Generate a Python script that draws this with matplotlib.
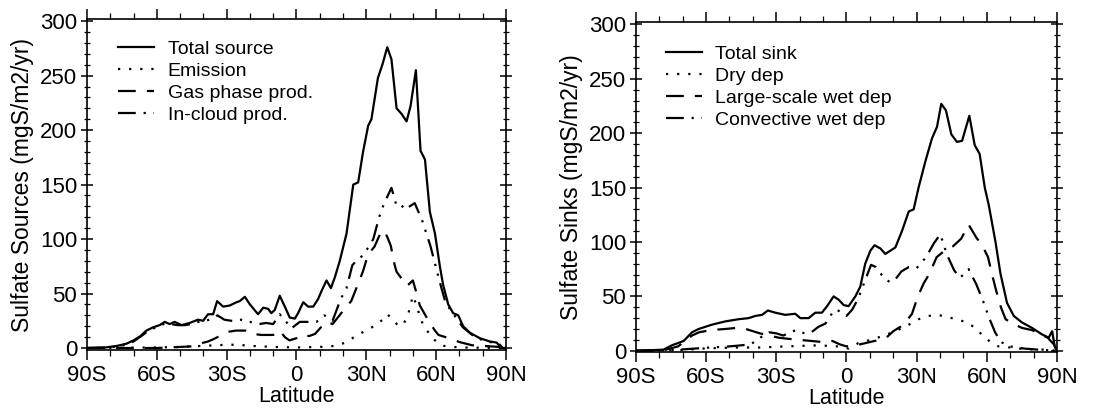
import matplotlib
matplotlib.use("Agg")
import matplotlib.pyplot as plt
from matplotlib.ticker import MultipleLocator

plt.rcParams['font.family'] = ['Liberation Sans', 'DejaVu Sans']

# ---- left panel: sulfate sources (mgS/m2/yr) ----
tot_src_lat = [-90, -82, -77, -73, -70, -67, -64.5, -61.6, -58.8, -56.6, -54.5, -52.3, -49.4, -45.9,
               -42.3, -40.1, -38, -35.8, -34.1, -31.5, -28.7, -25.8, -24.4, -22.2, -20, -16.5, -14.3,
               -12.2, -10.8, -9.3, -7.2, -5, -2.9, -0.7, 0.7, 2.9, 5, 7.2, 9.3, 10.7, 12.9, 14.8, 16.5,
               18.6, 21.5, 24.4, 26.5, 28.6, 30.8, 32.2, 35, 36.9, 39, 40.8, 43, 45.1, 47.3, 49, 51.3,
               53.3, 55.2, 57.3, 59.5, 61.6, 63, 65.2, 67.3, 69.5, 71.6, 74.5, 78.8, 83.1, 86, 88, 90]
tot_src = [0, 0.5, 2, 4, 7, 11, 16, 19, 21, 24, 22, 24, 21, 23,
           26, 25, 31, 31, 43, 38, 39, 42, 43, 47, 40, 31, 37,
           36, 32, 35, 48, 38, 28, 27, 32, 42, 38, 38, 45, 52, 62, 55, 65,
           80, 105, 150, 152, 180, 204, 210, 248, 260, 276, 265, 220, 215, 208, 222, 255,
           181, 173, 125, 105, 75, 58, 40, 32, 30, 20, 14, 9, 6, 5, 0, 0]

emis_lat = [-90, -60, -50, -45, -40, -35, -30, -25, -20, -10, 0, 10, 17, 21, 24, 27, 30, 34, 37, 39,
            41, 43.5, 45.8, 48, 50, 52, 53, 55, 57.5, 59.5, 63, 70, 90]
emis = [0, 0.5, 1, 1.5, 2, 2.5, 3, 3, 2, 1, 0.5, 1, 2, 5, 9, 13, 16, 21, 26, 31,
        27, 21, 21, 31, 48, 37, 28, 19, 12, 7, 2, 0.5, 0]

gas_lat = [-90, -60, -50, -45, -41.6, -38, -35.8, -32, -29, -26, -22, -19, -15, -10, -7.2, -5, -3, 0,
           2, 5.5, 8, 10.5, 13, 15.5, 18.5, 21, 23.5, 26.5, 28.5, 30.8, 33.5, 36, 37.5, 39, 40.5,
           42.2, 43, 47.5, 50, 51.5, 53, 57, 59.5, 61, 65.5, 70, 75.5, 80, 87, 90]
gas = [0, 0, 1, 1.5, 4, 6, 8, 12, 15, 16, 16, 13, 12, 12, 16, 10, 7, 9,
       12, 11, 13, 19, 24, 22, 30, 37, 43, 59, 70, 86, 93, 105, 108, 102, 94,
       76, 70, 57, 62, 51, 39, 24, 16, 12, 9, 5.5, 2.5, 2, 1, 0]

cld_lat = [-90, -80, -75, -70, -66, -63, -60, -57, -54, -51, -48, -45, -42, -39, -36, -34, -31, -28,
           -24, -20, -16, -13, -10, -7.2, -4.4, -2.2, 1.4, 5, 8.6, 12, 15.5, 19, 21.5, 24, 26.5,
           28.7, 31, 33, 35.5, 37.5, 40.8, 42.8, 44.5, 46.5, 50.8, 54, 57.5, 61.5, 64, 66.8, 71.5,
           75.5, 79, 84, 87, 88.5, 90]
cld = [0, 0.5, 2, 6, 12, 17, 19, 22, 22, 21, 21, 22, 24, 25, 27, 30, 26, 25,
       26, 24, 22, 23, 22, 31, 24, 18, 24, 24, 24, 30, 25, 45, 55, 76, 82,
       85, 93, 100, 120, 132, 147, 132, 133, 127, 133, 117, 94, 61, 42, 33, 19,
       12, 8, 5, 4, 0, 0]

# ---- right panel: sulfate sinks (mgS/m2/yr) ----
tot_snk_lat = [-90, -78.2, -74.6, -69.6, -66, -63.2, -57.5, -51.8, -46.1, -41.8, -39, -36.1, -33.6,
               -30.4, -26.2, -21.9, -19.7, -16.2, -13.3, -10.5, -8.3, -5.5, -3.4, -1.2, 0.9, 3.8,
               5.9, 8, 10.2, 12, 14.5, 16.6, 20.9, 23.7, 26.6, 28.7, 30.8, 33.7, 36.5, 38.7, 40.5,
               42.5, 44.8, 47.2, 49.4, 52.5, 54.8, 56.9, 59.1, 60.8, 63.6, 65.8, 68.6, 71.5, 75,
               79.3, 83.6, 86.4, 87.9, 89, 90]
tot_snk = [0, 1, 5, 9, 17, 20, 24, 27, 29, 30, 32, 33, 37,
           35, 33, 34, 30, 30, 35, 35, 41, 50, 47, 42, 41, 50,
           59, 80, 92, 97, 94, 89, 95, 110, 128, 130, 150, 174, 195, 206, 227,
           221, 199, 192, 193, 216, 189, 181, 150, 134, 101, 71, 44, 32, 26,
           21, 15, 12, 18, 4, 0]

dry_lat = [-90, -70, -62, -55, -46, -37, -26, -12, -4, 1, 5, 12, 18.6, 25, 30.8, 35, 39, 43, 47,
           51.5, 55, 58.2, 61.6, 65, 70, 76, 85, 90]
dry = [0, 0.5, 2, 2.5, 3, 3, 4, 5, 4, 2, 7, 11, 16, 22, 29, 32, 33, 31, 29,
       26, 21, 14, 8, 4, 3, 1.5, 1, 0]

lsc_lat = [-90, -78, -72, -66, -63, -58, -52, -47, -43, -40, -37, -33, -29, -25, -20, -15, -10, -6,
           -3, 0, 3, 6, 10, 14, 17, 20, 23, 25.5, 28, 30.5, 33, 35.5, 38.5, 42.5, 45.5, 49, 52.2,
           55.5, 58, 60.5, 62, 64, 66, 68, 71, 75, 79.3, 83, 86, 88.6, 90]
lsc = [0, 0.5, 4, 14, 17, 19, 20, 21, 20, 18, 16, 14, 12, 11, 10, 9, 8, 9,
       6, 4, 5, 6, 8, 10, 12, 18, 22, 27, 34, 50, 62, 71, 86, 93, 96, 103, 116,
       104, 97, 86, 72, 55, 40, 29, 25, 21, 19, 15, 12, 6, 0]

cnv_lat = [-90, -75, -65, -58, -50, -45, -41, -38, -35, -33, -30, -27, -24, -21.5, -18, -15, -12, -9,
           -6, -4, -2, 0, 2.5, 5, 8, 10.5, 12.5, 16, 18.6, 21, 23.5, 26.7, 30, 34, 37.4, 40.1, 43,
           46, 48.5, 52.2, 55.5, 58.5, 61, 63.5, 66, 70, 76, 82, 90]
cnv = [0, 0.5, 2, 3, 4, 5, 6, 10, 15, 17, 16, 14, 17, 19, 16, 17, 22, 25,
       35, 38, 34, 32, 38, 48, 65, 79, 77, 67, 63, 66, 73, 77, 76, 86, 99, 107, 88,
       74, 67, 75, 61, 45, 30, 17, 8, 4, 2, 1, 0]

lat_ticks = [-90, -60, -30, 0, 30, 60, 90]
lat_labels = ['90S', '60S', '30S', '0', '30N', '60N', '90N']

DOT = (0, (1, 4))
DASH = (0, (8, 5))
DASHDOT = (0, (8, 3.5, 1, 3.5, 1, 3.5))

fig = plt.figure(figsize=(11.04, 4.12), dpi=100)
ax1 = fig.add_axes([0.0788, 0.150, 0.3795, 0.804])
ax2 = fig.add_axes([0.576, 0.146, 0.3815, 0.800])

lw = 1.6
ax1.plot(tot_src_lat, tot_src, color='k', lw=lw, ls='-', label='Total source')
ax1.plot(emis_lat, emis, color='k', lw=lw, ls=DOT, label='Emission')
ax1.plot(gas_lat, gas, color='k', lw=lw, ls=DASH, label='Gas phase prod.')
ax1.plot(cld_lat, cld, color='k', lw=lw, ls=DASHDOT, label='In-cloud prod.')

ax2.plot(tot_snk_lat, tot_snk, color='k', lw=lw, ls='-', label='Total sink')
ax2.plot(dry_lat, dry, color='k', lw=lw, ls=DOT, label='Dry dep')
ax2.plot(lsc_lat, lsc, color='k', lw=lw, ls=DASH, label='Large-scale wet dep')
ax2.plot(cnv_lat, cnv, color='k', lw=lw, ls=DASHDOT, label='Convective wet dep')

for ax, ylab, ylo, anchor in [(ax1, 'Sulfate Sources (mgS/m2/yr)', -2, (0.074, 0.935)),
                              (ax2, 'Sulfate Sinks (mgS/m2/yr)', -1, (0.071, 0.93))]:
    ax.set_xlim(-90, 90)
    ax.set_ylim(ylo, 302)
    ax.set_xticks(lat_ticks)
    ax.set_xticklabels(lat_labels)
    ax.xaxis.set_minor_locator(MultipleLocator(10))
    ax.set_yticks(range(0, 301, 50))
    ax.yaxis.set_minor_locator(MultipleLocator(10))
    ax.tick_params(axis='x', which='both', direction='out', top=True, labelsize=16, pad=4)
    ax.tick_params(axis='x', which='major', length=7, width=1.1)
    ax.tick_params(axis='x', which='minor', length=4, width=0.9)
    ax.tick_params(axis='y', which='both', direction='inout', right=True, labelsize=16, pad=3)
    ax.tick_params(axis='y', which='major', length=8, width=1.1)
    ax.tick_params(axis='y', which='minor', length=4, width=0.9)
    for s in ax.spines.values():
        s.set_linewidth(1.2)
    ax.set_xlabel('Latitude', fontsize=15.5, labelpad=0)
    ax.set_ylabel(ylab, fontsize=16.5, labelpad=4)
    ax.legend(loc='upper left', bbox_to_anchor=anchor, frameon=False, fontsize=14,
              handlelength=1.85, handletextpad=0.7, labelspacing=0.22,
              borderpad=0, borderaxespad=0)

fig.savefig('out.png', dpi=100)
